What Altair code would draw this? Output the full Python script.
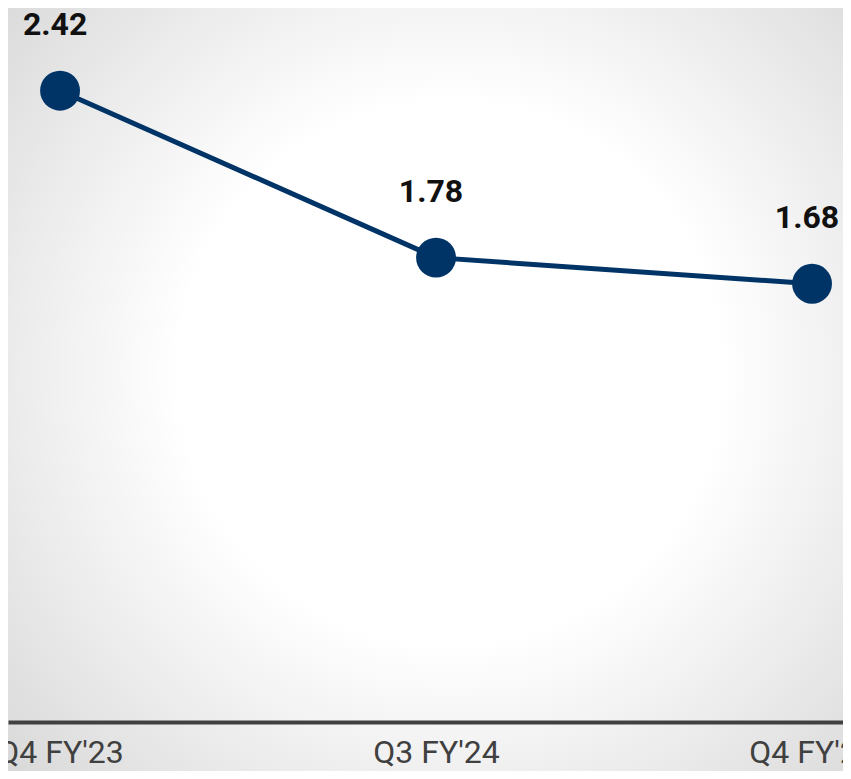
import altair as alt
import pandas as pd

quarters = ["Q4 FY'23", "Q3 FY'24", "Q4 FY'24"]
values = [2.42, 1.78, 1.68]
labels = ["2.42", "1.78", "1.68"]

df = pd.DataFrame({"quarter": quarters, "value": values, "label": labels})

W, H = 835, 714
NAVY = "#003366"

x_enc = alt.X(
    "quarter:N",
    sort=quarters,
    scale=alt.Scale(type="point", padding=0.1104, align=0.627),
    axis=alt.Axis(
        title=None, ticks=False, domain=True, domainColor="#404040",
        domainWidth=4, grid=False, zindex=1,
        labelFont="Roboto", labelFontSize=32, labelColor="#404040",
        labelBaseline="alphabetic", labelPadding=40, labelAngle=0,
        labelOverlap=False,
    ),
)
y_enc = alt.Y("value:Q", scale=alt.Scale(domain=[0, 2.737], nice=False), axis=None)

gradient = {
    "gradient": "radial",
    "x1": 0.53, "y1": 0.48, "r1": 0,
    "x2": 0.53, "y2": 0.48, "r2": 0.72,
    "stops": [
        {"offset": 0, "color": "#ffffff"},
        {"offset": 0.45, "color": "#ffffff"},
        {"offset": 1, "color": "#d8d8d8"},
    ],
}

bg = alt.Chart(df).transform_filter(alt.datum.quarter == quarters[0]).mark_rect(
    color=gradient, strokeWidth=0
).encode(
    x=alt.value(0), x2=alt.value(W), y=alt.value(0), y2=alt.value(H + 49)
)

base = alt.Chart(df).encode(x=x_enc, y=y_enc)

line = base.mark_line(color=NAVY, strokeWidth=5)
points = base.mark_circle(color=NAVY, opacity=1, size=1590)
text = base.mark_text(
    font="Roboto", fontSize=32, fontWeight="bold", color="#111111",
    baseline="alphabetic", dy=-56, dx=-5,
).encode(text="label:N")

chart = alt.layer(bg, line, points, text).properties(
    width=W, height=H,
    autosize=alt.AutoSizeParams(type="none"),
    padding={"left": 0, "right": 0, "top": 0, "bottom": 49},
).configure_view(stroke=None).configure(background="#e6e6e6")

chart.save("out.html", embed_options={"renderer": "svg", "actions": False})
